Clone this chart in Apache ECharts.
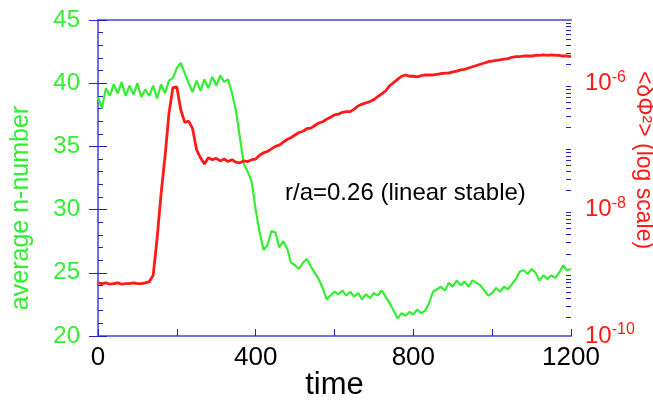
<!DOCTYPE html>
<html><head><meta charset="utf-8">
<script src="https://cdn.jsdelivr.net/npm/echarts@6/dist/echarts.min.js"></script>
<style>html,body{margin:0;padding:0;background:#fff}#c{width:653px;height:401px}</style>
</head><body><div id="c"></div>
<script>
// ---- data ----
const time = [0,10,20,30,40,50,60,70,80,90,100,110,120,130,140,150,160,170,180,190,
  200,210,220,230,240,250,260,270,280,290,300,310,320,330,340,350,360,370,380,390,
  400,410,420,430,440,450,460,470,480,490,500,510,520,530,540,550,560,570,580,590,
  600,610,620,630,640,650,660,670,680,690,700,710,720,730,740,750,760,770,780,790,
  800,810,820,830,840,850,860,870,880,890,900,910,920,930,940,950,960,970,980,990,
  1000,1010,1020,1030,1040,1050,1060,1070,1080,1090,1100,1110,1120,1130,1140,1150,1160,1170,1180,1190,1200];
// average n-number (left axis)
const avgN = [38.9,38.0,39.6,39.0,39.9,39.2,40.1,39.0,39.8,39.1,40.0,38.9,39.5,39.0,39.8,38.8,39.9,39.2,40.2,40.4,
  41.2,41.6,40.8,40.0,39.3,40.2,39.4,40.3,39.6,40.5,39.8,40.6,40.1,40.3,39.2,37.8,35.7,33.6,33.0,32.2,
  30.0,28.2,26.8,27.2,28.3,28.2,27.0,27.5,26.9,25.8,25.6,25.3,25.8,26.1,25.5,25.0,24.5,23.8,22.9,23.2,
  23.5,23.3,23.6,23.2,23.5,23.1,23.4,22.9,23.3,23.0,23.4,23.2,23.6,23.1,22.6,22.0,21.4,21.8,21.6,21.9,
  21.7,22.1,21.8,22.0,22.6,23.5,23.7,23.9,23.6,24.2,23.9,24.4,24.0,24.3,23.9,24.4,24.2,24.0,23.6,23.2,
  23.4,23.8,23.5,23.9,23.7,24.1,24.5,25.1,25.2,24.9,25.3,25.0,24.4,24.8,24.5,24.8,24.6,25.0,25.6,25.2,25.3];
// log10 of <dPhi^2> (right axis, log scale)
const phiExp = [-9.16,-9.17,-9.16,-9.18,-9.17,-9.16,-9.18,-9.17,-9.17,-9.16,-9.17,-9.17,-9.16,-9.14,-9.04,-8.45,-7.75,-7.16,-6.48,-6.07,
  -6.06,-6.42,-6.62,-6.60,-6.72,-7.05,-7.18,-7.28,-7.18,-7.21,-7.19,-7.23,-7.20,-7.24,-7.21,-7.25,-7.26,-7.23,-7.24,-7.21,
  -7.20,-7.14,-7.10,-7.08,-7.04,-7.00,-6.98,-6.93,-6.89,-6.86,-6.82,-6.78,-6.76,-6.72,-6.71,-6.67,-6.63,-6.61,-6.57,-6.54,
  -6.50,-6.49,-6.46,-6.45,-6.45,-6.41,-6.36,-6.33,-6.31,-6.29,-6.26,-6.21,-6.17,-6.12,-6.04,-5.99,-5.94,-5.89,-5.87,-5.89,
  -5.89,-5.90,-5.88,-5.87,-5.87,-5.87,-5.86,-5.85,-5.84,-5.84,-5.82,-5.81,-5.79,-5.78,-5.76,-5.74,-5.72,-5.70,-5.68,-5.66,
  -5.65,-5.64,-5.63,-5.62,-5.61,-5.59,-5.58,-5.58,-5.57,-5.57,-5.57,-5.56,-5.56,-5.55,-5.56,-5.55,-5.56,-5.56,-5.57,-5.57,-5.58];
const xLabelValues = [0, 400, 800, 1200];
const rightLabelExps = [-10, -8, -6];
const annotation = 'r/a=0.26 (linear stable)';

// ---- chart ----
const GREEN = '#33ee33', RED = '#ff1a1a', AXIS = '#6f6fe6', TICK = '#2222cc';
const FONT = '"Liberation Sans", Arial, sans-serif';
const minorLog = [];
for (let d = -10; d < -5; d++) for (let m = 2; m <= 9; m++) minorLog.push(d + Math.log10(m));

const chart = echarts.init(document.getElementById('c'), null, {renderer: 'canvas'});
chart.setOption({
  animation: false,
  backgroundColor: '#fff',
  textStyle: {fontFamily: FONT},
  grid: {left: 98, right: 82, top: 20, bottom: 65, containLabel: false, outerBoundsMode: 'none'},
  xAxis: [{
    type: 'value', min: 0, max: 1200, interval: 200,
    name: 'time', nameLocation: 'middle', nameGap: 34, nameMoveOverlap: false,
    nameTextStyle: {fontSize: 31, color: '#000', fontFamily: FONT},
    axisLine: {show: true, lineStyle: {color: AXIS, width: 2}},
    axisTick: {show: true, inside: true, length: 7, lineStyle: {color: TICK, width: 1}},
    axisLabel: {fontSize: 26, color: '#000', margin: 9, fontFamily: FONT,
      formatter: v => xLabelValues.includes(v) ? String(v) : ''},
    splitLine: {show: false}
  }, {
    type: 'value', min: 0, max: 1200, position: 'top',
    axisLine: {show: true, lineStyle: {color: AXIS, width: 2}},
    axisTick: {show: false}, axisLabel: {show: false}, splitLine: {show: false}
  }],
  yAxis: [{
    type: 'value', min: 20, max: 45, interval: 5, position: 'left',
    name: 'average n-number', nameLocation: 'middle', nameGap: 64, nameMoveOverlap: false,
    nameTextStyle: {fontSize: 25, color: GREEN, fontFamily: FONT, padding: [0, 60, 0, 0]},
    axisLine: {show: true, lineStyle: {color: AXIS, width: 2}},
    axisTick: {show: true, inside: true, length: 9, lineStyle: {color: TICK, width: 1}},
    minorTick: {show: true, splitNumber: 5, length: 5, lineStyle: {color: TICK, width: 1}},
    axisLabel: {fontSize: 24, color: GREEN, margin: 18, fontFamily: FONT},
    splitLine: {show: false}, minorSplitLine: {show: false}
  }, {
    type: 'log', logBase: 10, min: 1e-10, max: 1e-5, position: 'right',
    name: '<δΦ²> (log scale)', nameLocation: 'middle', nameGap: 61, nameRotate: -90, nameMoveOverlap: false,
    nameTextStyle: {fontSize: 23, color: RED, fontFamily: FONT, padding: [0, 36, 0, 0]},
    axisLine: {show: true, lineStyle: {color: AXIS, width: 2}},
    axisTick: {show: true, inside: true, length: 9, lineStyle: {color: TICK, width: 1}},
    axisLabel: {margin: 14, fontFamily: FONT,
      formatter: v => {
        const e = Math.round(Math.log10(v));
        return rightLabelExps.includes(e) ? '{b|10}{s|' + e + '}' : '';
      },
      rich: {
        b: {fontSize: 24, color: RED, fontFamily: FONT},
        s: {fontSize: 16, color: RED, fontFamily: FONT, padding: [0, 0, 12, 0]}
      }},
    splitLine: {show: false}
  }, {
    // minor (2..9 x 10^n) tick marks of the log axis
    type: 'value', min: -10, max: -5, position: 'right',
    axisLine: {show: false},
    axisTick: {show: true, inside: true, length: 5, customValues: minorLog, lineStyle: {color: TICK, width: 1}},
    axisLabel: {show: false}, splitLine: {show: false}
  }],
  series: [{
    name: 'average n-number', type: 'line', xAxisIndex: 0, yAxisIndex: 0,
    data: time.map((t, i) => [t, avgN[i]]),
    showSymbol: false, symbol: 'none',
    lineStyle: {color: GREEN, width: 2.2}
  }, {
    name: '<δΦ²>', type: 'line', xAxisIndex: 0, yAxisIndex: 1,
    data: time.map((t, i) => [t, Math.pow(10, phiExp[i])]),
    showSymbol: false, symbol: 'none',
    lineStyle: {color: RED, width: 2.8}
  }],
  graphic: [{
    type: 'text', left: 285, top: 181,
    style: {text: annotation, fontSize: 24, fill: '#000', font: '24px ' + FONT}
  }]
});
</script>
</body></html>
